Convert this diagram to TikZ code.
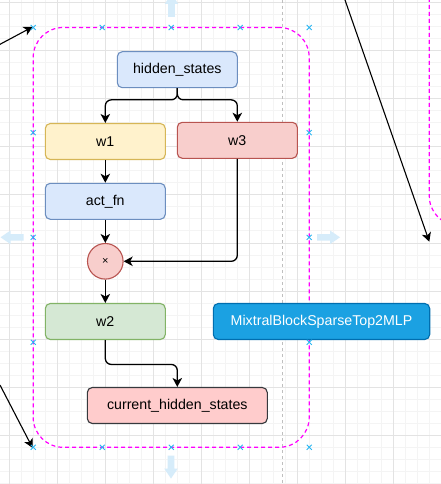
\documentclass[tikz,border=0pt]{standalone}
\usepackage{fontspec}
\setmainfont{Liberation Sans}
\usepackage{xcolor}
\usetikzlibrary{arrows.meta,positioning}

\definecolor{blueFill}{HTML}{DAE8FC}
\definecolor{blueLine}{HTML}{6C8EBF}
\definecolor{yellowFill}{HTML}{FFF2CC}
\definecolor{yellowLine}{HTML}{D6B656}
\definecolor{redFill}{HTML}{F8CECC}
\definecolor{redLine}{HTML}{B85450}
\definecolor{greenFill}{HTML}{D5E8D4}
\definecolor{greenLine}{HTML}{82B366}
\definecolor{pinkFill}{HTML}{FFCCCC}
\definecolor{darkLine}{HTML}{36393D}
\definecolor{titleFill}{HTML}{1BA1E2}
\definecolor{titleLine}{HTML}{006EAF}
\definecolor{groupLine}{HTML}{FF00FF}
\definecolor{handleBlue}{HTML}{29B6F2}
\definecolor{hoverBlue}{HTML}{D6ECFA}
\definecolor{gridMinor}{HTML}{F4F4F4}
\definecolor{gridMajor}{HTML}{E3E3E3}

\begin{document}
\begin{tikzpicture}[
  x=1pt, y=-1pt,
  >={Stealth[length=9pt,width=9.5pt,inset=2.5pt]},
  block/.style={draw, line width=1.1pt, rounded corners=5pt, inner sep=0pt,
    minimum width=120pt, minimum height=36pt,
    font=\fontsize{14.2}{17}\selectfont},
  flow/.style={->, line width=1.3pt, rounded corners=6pt},
  group/.style={draw=groupLine, line width=1.2pt, dash pattern=on 4pt off 3pt,
    rounded corners=30pt},
  handle/.style={draw=handleBlue, line width=0.9pt},
  hover/.style={fill=hoverBlue},
]
  % Canvas and grid
  \clip (0,0) rectangle (441,484);
  \fill[white] (0,0) rectangle (441,484);
  \foreach \k in {0,...,36} {
    \draw[gridMinor, line width=0.8pt] ({9+12.025*\k},0) -- ({9+12.025*\k},484);
  }
  \foreach \k in {0,...,40} {
    \draw[gridMinor, line width=0.8pt] (0,{2.4+12.025*\k}) -- (441,{2.4+12.025*\k});
  }
  \foreach \k in {0,...,9} {
    \draw[gridMajor, line width=0.8pt] ({9+48.1*\k},0) -- ({9+48.1*\k},484);
    \draw[gridMajor, line width=0.8pt] (0,{2.4+48.1*\k}) -- (441,{2.4+48.1*\k});
  }

  % Page break guide
  \draw[gray!50, line width=0.7pt, dash pattern=on 3pt off 3pt] (282,0) -- (282,484);

  % Expert group and the neighbouring group on the right
  \node[group, minimum width=276pt, minimum height=419.8pt] (expert) at (171.2,237.4) {};
  \draw[group] (429.3,-200) rectangle (700,226);

  % Layers
  \node[block, draw=blueLine, fill=blueFill] (hs) at (177.3,69.7) {hidden\_states};
  \node[block, draw=yellowLine, fill=yellowFill] (w1) at (105.3,141.5) {w1};
  \node[block, draw=redLine, fill=redFill] (w3) at (237.3,140.3) {w3};
  \node[block, draw=blueLine, fill=blueFill] (act) at (105.3,201.3) {act\_fn};
  \node[circle, draw=redLine, fill=redFill, line width=1.1pt, inner sep=0pt,
    minimum size=35.6pt, font=\fontsize{11}{13}\selectfont] (mul) at (105.3,261.3) {×};
  \node[block, draw=greenLine, fill=greenFill] (w2) at (105.3,321.5) {w2};
  \node[block, draw=titleLine, fill=titleFill, text=white, minimum width=216.4pt]
    (title) at (321.5,321.5) {MixtralBlockSparseTop2MLP};
  \node[block, draw=darkLine, fill=pinkFill, minimum width=180pt] (cur) at (177.3,405.5)
    {current\_hidden\_states};

  % Connectors
  \draw[flow] (hs.south) -- ++(0,11.6) -| (w1.north);
  \draw[flow] (hs.south) -- ++(0,11.6) -| (w3.north);
  \draw[flow] (w1) -- (act);
  \draw[flow] (act) -- (mul);
  \draw[flow] (w3.south) |- (mul.east);
  \draw[flow] (mul) -- (w2);
  \draw[flow] (w2.south) -- ++(0,24.4) -| (cur.north);

  % Edges coming from outside the view
  \coordinate (fromTL) at (0,44.3);
  \coordinate (fromBL) at (0,385);
  \coordinate (fromTR) at (345,0);
  \coordinate (toRight) at (429.3,241.7);
  \draw[->, line width=1.1pt] (fromTL) -- (expert.north west);
  \draw[->, line width=1.1pt] (fromBL) -- (expert.south west);
  \draw[->, line width=1.1pt] (fromTR) -- (toRight);

  % Selection handles
  \foreach \x in {33.2,102.2,171.2,240.2,309.2} {
    \foreach \y in {27.5,447.3} {
      \draw[handle] ({\x-2.5},{\y-2.5}) -- ({\x+2.5},{\y+2.5})
        ({\x-2.5},{\y+2.5}) -- ({\x+2.5},{\y-2.5});
    }
  }
  \foreach \x in {33.2,309.2} {
    \foreach \y in {132.6,237.4,342.3} {
      \draw[handle] ({\x-2.5},{\y-2.5}) -- ({\x+2.5},{\y+2.5})
        ({\x-2.5},{\y+2.5}) -- ({\x+2.5},{\y-2.5});
    }
  }

  % Hover arrows
  \foreach \x/\y/\a in {317/237.3/0, 23.5/237.3/180, 171.5/17/90, 171/455.5/-90} {
    \fill[hover, shift={(\x,\y)}, rotate=\a]
      (0,-3.3) -- (13,-3.3) -- (13,-6.8) -- (23,0) -- (13,6.8) -- (13,3.3) -- (0,3.3) -- cycle;
  }
\end{tikzpicture}
\end{document}
